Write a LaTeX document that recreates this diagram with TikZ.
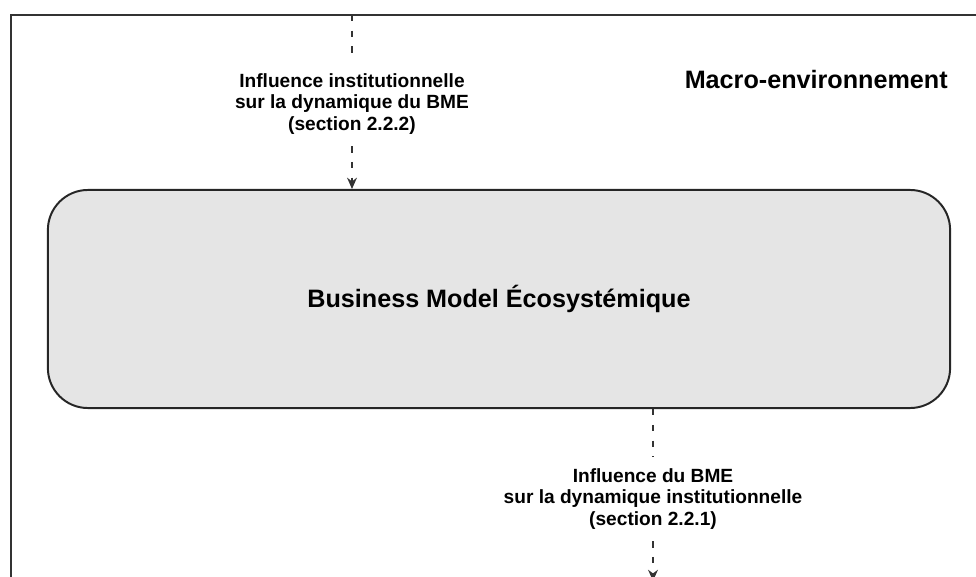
\documentclass[tikz,border=0pt]{standalone}
\usepackage{fontspec}
\setmainfont{Liberation Sans}
\usepackage{tikz}
\usetikzlibrary{positioning}
\usetikzlibrary{arrows.meta}
\definecolor{boxgray}{rgb}{0.90, 0.90, 0.90}
\definecolor{framegray}{rgb}{0.20, 0.20, 0.20}

\begin{document}
\begin{tikzpicture}[x=0.025cm, y=-0.025cm,
    influence/.style={dashed, dash pattern=on 4.6pt off 6.6pt, line width=1.2pt, color=framegray},
    flowlabel/.style={align=center, inner sep=0pt, outer sep=8pt, font=\bfseries\fontsize{13.6}{15.6}\selectfont},
    bmebox/.style={draw=black!85, line width=1.4pt, fill=boxgray, rounded corners=1cm, minimum width=22.55cm, minimum height=5.45cm, font=\bfseries\fontsize{17.9}{20}\selectfont}
    ]
    %
    \useasboundingbox (0,0) rectangle (976,577);
    \clip (0,0) rectangle (976,577);
    %
    \draw[line width=1.4pt, color=framegray] (11,15) rectangle (1000,620);
    %
    \node[anchor=base east, inner sep=0pt, font=\bfseries\fontsize{17.9}{20}\selectfont] (macro) at (948,89) {Macro-environnement};
    %
    \node[bmebox] (bme) at (499,299) {Business Model Écosystémique};
    %
    \coordinate (instin) at (352,15);
    \node[flowlabel] (instlabel) at (352,104) {Influence institutionnelle\\sur la dynamique du BME\\(section 2.2.2)};
    \draw[influence] (instin) -- (instlabel);
    \draw[influence, -{Stealth[length=8pt, width=7pt]}] (instlabel) -- (instlabel |- bme.north);
    %
    \node[flowlabel] (bmelabel) at (653,499) {Influence du BME\\sur la dynamique institutionnelle\\(section 2.2.1)};
    \coordinate (bmeout) at (653,581);
    \draw[influence] (bmelabel |- bme.south) -- (bmelabel);
    \draw[influence, -{Stealth[length=8pt, width=7pt]}] (bmelabel) -- (bmeout);
    %
\end{tikzpicture}
\end{document}
